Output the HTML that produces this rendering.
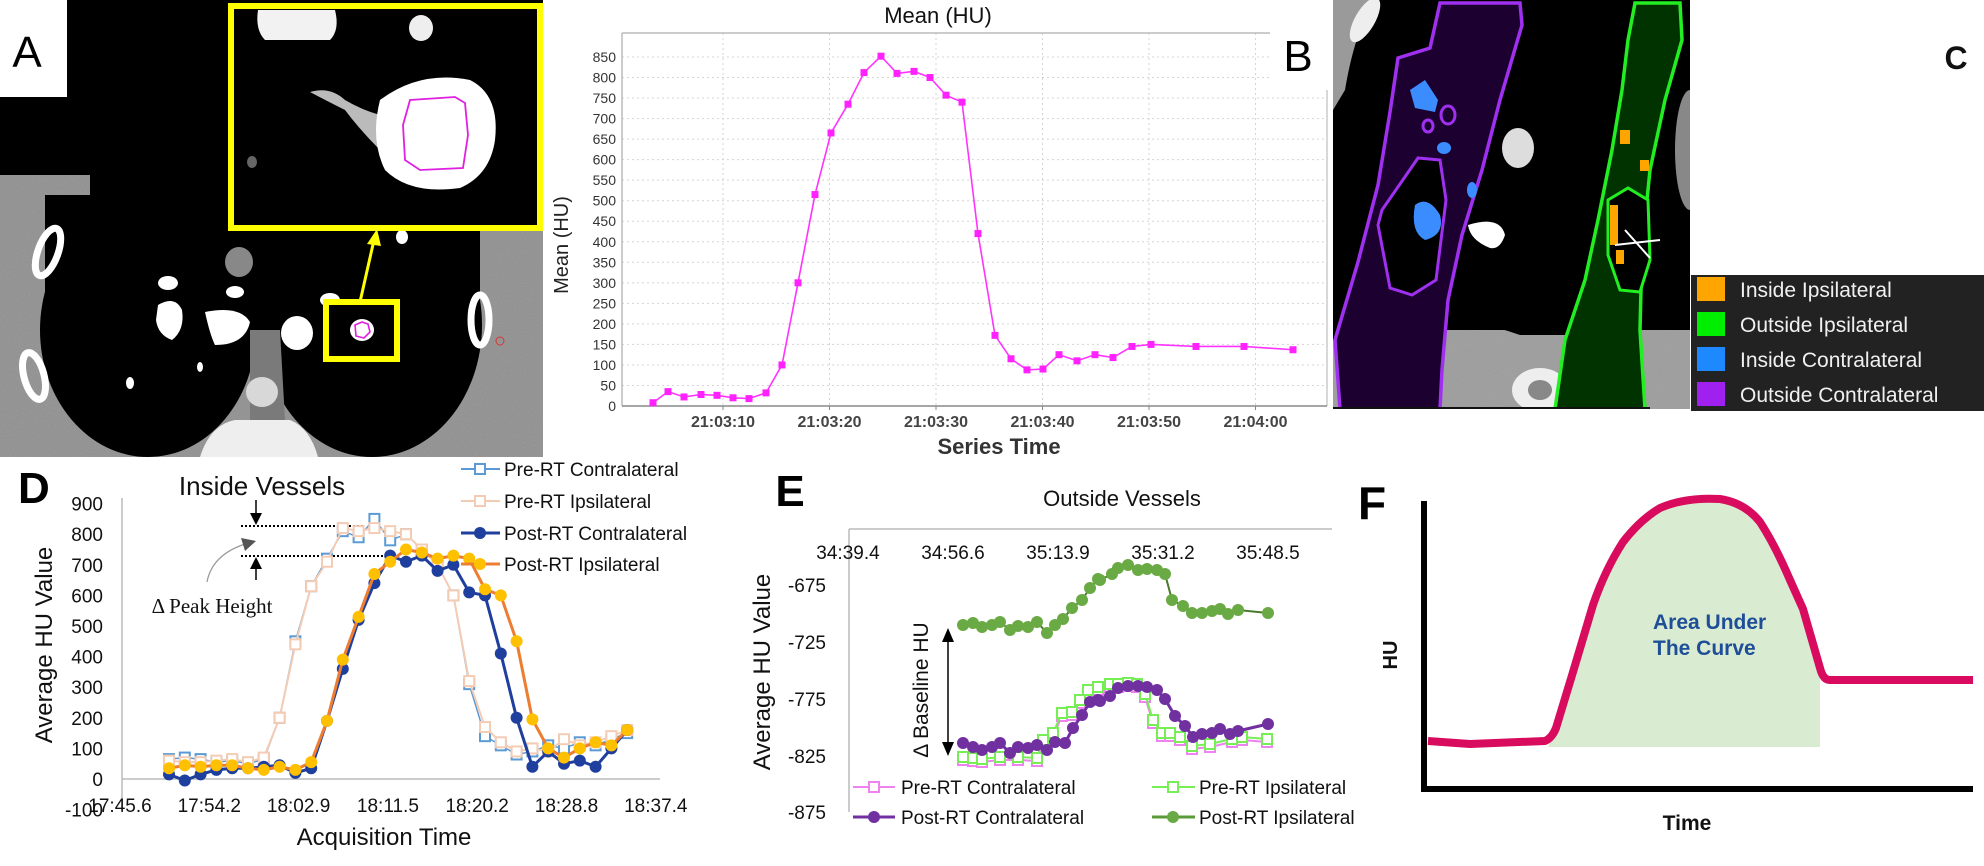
<!DOCTYPE html>
<html><head><meta charset="utf-8">
<style>
html,body{margin:0;padding:0;background:#fff;}
svg{display:block;font-family:"Liberation Sans",Arial,sans-serif;}
</style></head>
<body>
<svg id="s" width="1984" height="866" viewBox="0 0 1984 866" xmlns="http://www.w3.org/2000/svg">
<defs>
<filter id="noise" x="0" y="0" width="100%" height="100%">
<feTurbulence type="fractalNoise" baseFrequency="0.9" numOctaves="2" seed="3"/>
<feColorMatrix type="matrix" values="0 0 0 0 0.5  0 0 0 0 0.5  0 0 0 0 0.5  0 0 0 0.35 0"/>
<feComposite in2="SourceGraphic" operator="in"/>
</filter>
<clipPath id="cpA"><rect x="0" y="0" width="543" height="457"/></clipPath>
<clipPath id="cpB"><rect x="1333" y="0" width="357" height="409"/></clipPath>
</defs>

<!-- ============ PANEL A ============ -->
<g clip-path="url(#cpA)">
<rect x="0" y="0" width="543" height="457" fill="#000"/>
<rect x="0" y="175" width="543" height="282" fill="#8c8c8c"/>
<rect x="0" y="175" width="543" height="282" fill="#8c8c8c" filter="url(#noise)"/>
<rect x="90" y="0" width="390" height="330" fill="#000"/>
<rect x="45" y="195" width="60" height="120" fill="#000"/>
<ellipse cx="148" cy="330" rx="108" ry="127" fill="#000"/>
<ellipse cx="372" cy="325" rx="110" ry="132" fill="#000"/>
<path d="M250 330 L280 330 L285 420 L250 420 Z" fill="#7a7a7a"/>
<ellipse cx="262" cy="392" rx="16" ry="15" fill="#d8d8d8"/>
<path d="M200 457 Q210 425 235 420 L290 420 Q310 428 318 457 Z" fill="#eee"/>
<ellipse cx="48" cy="252" rx="10" ry="25" fill="none" stroke="#fff" stroke-width="7" transform="rotate(20 48 252)"/>
<ellipse cx="34" cy="376" rx="10" ry="24" fill="none" stroke="#fff" stroke-width="7" transform="rotate(-15 34 376)"/>
<ellipse cx="480" cy="320" rx="9" ry="25" fill="none" stroke="#fff" stroke-width="7"/>
<ellipse cx="239" cy="262" rx="14" ry="15" fill="#888"/>
<ellipse cx="168" cy="283" rx="10" ry="7" fill="#fff"/>
<ellipse cx="235" cy="292" rx="9" ry="6" fill="#fff"/>
<path d="M158 305 Q175 295 182 310 Q185 330 172 340 Q158 335 156 320Z" fill="#fff"/>
<path d="M205 312 Q240 305 250 322 Q245 345 215 345 Q210 335 205 312Z" fill="#fff"/>
<ellipse cx="297" cy="333" rx="16" ry="17" fill="#fff"/>
<ellipse cx="330" cy="300" rx="10" ry="7" fill="#fff"/>
<ellipse cx="402" cy="237" rx="6" ry="7" fill="#fff"/>
<ellipse cx="130" cy="383" rx="4" ry="6" fill="#fff"/>
<ellipse cx="200" cy="367" rx="3" ry="5" fill="#fff"/>
<ellipse cx="500" cy="341" rx="4" ry="4" fill="none" stroke="#d33" stroke-width="1"/>
<!-- small yellow box -->
<rect x="326" y="302" width="71" height="57" fill="#000" stroke="#ff0" stroke-width="6"/>
<ellipse cx="362" cy="330" rx="12" ry="11" fill="#fff"/>
<path d="M355 325 L362 322 L368 324 L370 332 L364 338 L356 336 Z" fill="none" stroke="#e020e0" stroke-width="1.6"/>
<line x1="360" y1="302" x2="374" y2="240" stroke="#ff0" stroke-width="3"/>
<path d="M367 244 L377 229 L381 246 Z" fill="#ff0"/>
<!-- inset -->
<rect x="231" y="6" width="309" height="222" fill="#000" stroke="#ff0" stroke-width="6"/>
<path d="M258 10 L335 10 Q340 30 330 40 L265 40 Q255 30 258 10Z" fill="#f2f2f2"/>
<ellipse cx="421" cy="28" rx="12" ry="13" fill="#eee"/>
<path d="M310 92 Q330 86 345 100 Q362 110 380 115 L380 150 Q360 130 345 110 Q325 100 310 92Z" fill="#bbb"/>
<path d="M380 100 Q420 70 470 80 Q500 95 495 140 Q490 175 460 188 Q410 195 385 170 Q370 140 380 100Z" fill="#fff"/>
<path d="M403 125 L410 100 L455 97 L465 103 L468 135 L463 168 L420 170 L405 160 Z" fill="none" stroke="#e020e0" stroke-width="1.8"/>
<ellipse cx="252" cy="162" rx="5" ry="6" fill="#666"/>
</g>
<rect x="0" y="0" width="67" height="97" fill="#fff"/>
<text x="27" y="67" font-size="44" text-anchor="middle" fill="#000">A</text>

<!-- ============ MEAN CHART ============ -->
<text x="938" y="23" font-size="22" text-anchor="middle" fill="#111">Mean (HU)</text>
<g id="meangrid" stroke="#d4d4d4" stroke-width="1" stroke-dasharray="2,3"></g>
<line x1="622" y1="33" x2="1327" y2="33" stroke="#bbb" stroke-width="1.5"/>
<line x1="622" y1="33" x2="622" y2="406" stroke="#bbb" stroke-width="1.5"/>
<line x1="1327" y1="33" x2="1327" y2="406" stroke="#ccc" stroke-width="1.5"/>
<line x1="622" y1="406" x2="1327" y2="406" stroke="#888" stroke-width="1.5"/>
<g id="meanylab" font-size="14" fill="#333" text-anchor="end"></g>
<g id="meanxlab" font-size="16" font-weight="bold" fill="#444" text-anchor="middle"></g>
<text x="999" y="454" font-size="22" font-weight="bold" text-anchor="middle" fill="#333">Series Time</text>
<text transform="translate(568 245) rotate(-90)" font-size="20" text-anchor="middle" fill="#222">Mean (HU)</text>
<polyline id="meanline" fill="none" stroke="#ff33ff" stroke-width="1.6"/>
<g id="meanpts" fill="#ff22ff"></g>

<!-- B label -->
<rect x="1270" y="20" width="60" height="70" fill="#fff"/>
<text x="1298" y="71" font-size="44" text-anchor="middle" fill="#000">B</text>

<!-- ============ PANEL B IMAGE ============ -->
<g clip-path="url(#cpB)">
<rect x="1333" y="0" width="357" height="409" fill="#000"/>
<path d="M1333 0 L1375 0 Q1355 30 1345 90 L1333 110Z" fill="#9a9a9a"/>
<ellipse cx="1365" cy="20" rx="10" ry="25" fill="#eee" transform="rotate(30 1365 20)"/>
<path d="M1333 330 L1690 330 L1690 409 L1333 409Z" fill="#999"/>
<rect x="1333" y="330" width="357" height="79" fill="#999" filter="url(#noise)"/>
<ellipse cx="1540" cy="390" rx="28" ry="22" fill="#eee"/>
<ellipse cx="1540" cy="390" rx="12" ry="10" fill="#888"/>
<path d="M1333 340 Q1420 300 1520 335 L1600 335 Q1650 300 1690 330 L1690 260 Q1660 300 1640 330 L1460 330 Q1400 300 1333 330Z" fill="#000"/>
<path d="M1440 3 L1520 3 L1522 25 L1500 100 L1482 170 L1462 235 L1448 300 L1442 370 L1440 409 L1340 409 L1335 340 L1358 262 L1378 185 L1390 112 L1398 58 L1430 48 Z" fill="#1c0030" stroke="#a030f0" stroke-width="3.5"/>
<path d="M1382 210 L1418 158 L1440 160 L1446 200 L1436 280 L1412 295 L1390 288 L1378 225 Z" fill="#000" stroke="#a030f0" stroke-width="3"/>
<ellipse cx="1448" cy="115" rx="7" ry="9" fill="none" stroke="#a030f0" stroke-width="3"/>
<ellipse cx="1428" cy="126" rx="5" ry="6" fill="none" stroke="#a030f0" stroke-width="3"/>
<path d="M1410 90 L1425 80 L1438 100 L1435 112 L1415 108Z" fill="#3a8cff"/>
<ellipse cx="1444" cy="148" rx="7" ry="6" fill="#3a8cff"/>
<path d="M1415 205 Q1428 195 1440 215 Q1445 235 1425 240 Q1410 232 1415 205Z" fill="#3a8cff"/>
<ellipse cx="1472" cy="190" rx="5" ry="8" fill="#3a8cff"/>
<ellipse cx="1518" cy="148" rx="16" ry="20" fill="#ddd"/>
<path d="M1468 225 Q1500 215 1505 235 Q1500 250 1490 248 Q1470 240 1468 225Z" fill="#fff"/>
<path d="M1635 3 L1680 3 L1682 40 L1665 100 L1650 170 L1642 250 L1640 330 L1645 409 L1555 409 L1565 340 L1585 280 L1598 220 L1612 150 L1622 90 L1628 40 Z" fill="#003300" stroke="#22ee22" stroke-width="3.5"/>
<path d="M1608 200 L1628 188 L1648 200 L1650 260 L1640 292 L1620 290 L1608 255 Z" fill="#000" stroke="#22ee22" stroke-width="3"/>
<rect x="1620" y="130" width="10" height="14" fill="#ffa500"/>
<rect x="1640" y="160" width="9" height="11" fill="#ffa500"/>
<rect x="1610" y="205" width="8" height="40" fill="#ffa500"/>
<rect x="1616" y="250" width="8" height="14" fill="#ffa500"/>
<path d="M1615 245 L1660 240 M1625 230 L1650 258" stroke="#fff" stroke-width="2"/>
<ellipse cx="1690" cy="150" rx="15" ry="60" fill="#888"/>
</g>
<line x1="1333" y1="408" x2="1650" y2="408" stroke="#111" stroke-width="2"/>

<!-- legend box -->
<rect x="1691" y="275" width="293" height="136" fill="#222"/>
<rect x="1697" y="277" width="28" height="24" fill="#ffa500"/>
<rect x="1697" y="312" width="28" height="24" fill="#00ee00"/>
<rect x="1697" y="347" width="28" height="24" fill="#1e88ff"/>
<rect x="1697" y="382" width="28" height="24" fill="#a020f0"/>
<g font-size="21" fill="#f0f0f0">
<text x="1740" y="297">Inside Ipsilateral</text>
<text x="1740" y="332">Outside Ipsilateral</text>
<text x="1740" y="367">Inside Contralateral</text>
<text x="1740" y="402">Outside Contralateral</text>
</g>
<text x="1956" y="69" font-size="32" font-weight="bold" text-anchor="middle" fill="#111">C</text>

<!-- ============ PANEL D ============ -->
<text x="18" y="503" font-size="44" font-weight="bold" fill="#000">D</text>
<text x="262" y="495" font-size="26" text-anchor="middle" fill="#111">Inside Vessels</text>
<line x1="122" y1="498" x2="122" y2="810" stroke="#bbb" stroke-width="1.5"/>
<line x1="122" y1="779" x2="660" y2="779" stroke="#bbb" stroke-width="1.5"/>
<g id="dylab" font-size="19" fill="#111" text-anchor="end"></g>
<g id="dxlab" font-size="19" fill="#111" text-anchor="middle"></g>
<text x="384" y="845" font-size="24" text-anchor="middle" fill="#111">Acquisition Time</text>
<text transform="translate(52 645) rotate(-90)" font-size="24" text-anchor="middle" fill="#111">Average HU  Value</text>
<line x1="241" y1="526" x2="364" y2="526" stroke="#000" stroke-width="2" stroke-dasharray="2,2"/>
<line x1="241" y1="556" x2="390" y2="556" stroke="#000" stroke-width="2" stroke-dasharray="2,2"/>
<line x1="256" y1="500" x2="256" y2="515" stroke="#000" stroke-width="1.5"/>
<path d="M250 513 L262 513 L256 525Z" fill="#000"/>
<line x1="256" y1="568" x2="256" y2="580" stroke="#000" stroke-width="1.5"/>
<path d="M250 569 L262 569 L256 557Z" fill="#000"/>
<path d="M207 582 Q212 555 245 544" fill="none" stroke="#999" stroke-width="1.2"/>
<path d="M241 538 L256 541 L245 551Z" fill="#555"/>
<text x="212" y="613" font-size="21" text-anchor="middle" fill="#111" font-family="Liberation Serif, serif">Δ Peak Height</text>
<g id="dseries"></g>
<!-- D legend -->
<g font-size="19" fill="#111">
<line x1="461" y1="469" x2="500" y2="469" stroke="#5b9bd5" stroke-width="2"/><rect x="475" y="464" width="10" height="10" fill="#fff" stroke="#5b9bd5" stroke-width="2"/>
<text x="504" y="476">Pre-RT Contralateral</text>
<line x1="461" y1="501" x2="500" y2="501" stroke="#f4ccb4" stroke-width="2"/><rect x="475" y="496" width="10" height="10" fill="#fff" stroke="#f4ccb4" stroke-width="2"/>
<text x="504" y="508">Pre-RT Ipsilateral</text>
<line x1="461" y1="533" x2="500" y2="533" stroke="#1f3f9f" stroke-width="3"/><circle cx="480" cy="533" r="6" fill="#1f3f9f"/>
<text x="504" y="540">Post-RT Contralateral</text>
<line x1="461" y1="564" x2="500" y2="564" stroke="#ed7d31" stroke-width="3"/><circle cx="480" cy="564" r="6" fill="#ffc000"/>
<text x="504" y="571">Post-RT Ipsilateral</text>
</g>

<!-- ============ PANEL E ============ -->
<text x="790" y="506" font-size="44" font-weight="bold" text-anchor="middle" fill="#000">E</text>
<text x="1122" y="506" font-size="22" text-anchor="middle" fill="#111">Outside Vessels</text>
<line x1="849" y1="529" x2="1332" y2="529" stroke="#bbb" stroke-width="1.5"/>
<line x1="849" y1="529" x2="849" y2="812" stroke="#bbb" stroke-width="1.5"/>
<g font-size="19" fill="#111" text-anchor="middle">
<text x="848" y="559">34:39.4</text><text x="953" y="559">34:56.6</text><text x="1058" y="559">35:13.9</text><text x="1163" y="559">35:31.2</text><text x="1268" y="559">35:48.5</text>
</g>
<g font-size="19" fill="#111" text-anchor="end">
<text x="826" y="592">-675</text><text x="826" y="649">-725</text><text x="826" y="706">-775</text><text x="826" y="763">-825</text><text x="826" y="819">-875</text>
</g>
<text transform="translate(770 672) rotate(-90)" font-size="24" text-anchor="middle" fill="#111">Average HU Value</text>
<line x1="948" y1="640" x2="948" y2="745" stroke="#000" stroke-width="1.5"/>
<path d="M942 642 L954 642 L948 628Z" fill="#000"/>
<path d="M942 742 L954 742 L948 756Z" fill="#000"/>
<text transform="translate(928 690) rotate(-90)" font-size="21" text-anchor="middle" fill="#111">Δ Baseline HU</text>
<g id="eseries"></g>
<g font-size="19" fill="#111">
<line x1="853" y1="787" x2="895" y2="787" stroke="#ee82ee" stroke-width="2"/><rect x="869" y="782" width="10" height="10" fill="#fff" stroke="#ee82ee" stroke-width="2"/>
<text x="901" y="794">Pre-RT Contralateral</text>
<line x1="853" y1="817" x2="895" y2="817" stroke="#7030a0" stroke-width="3"/><circle cx="874" cy="817" r="6" fill="#7030a0"/>
<text x="901" y="824">Post-RT Contralateral</text>
<line x1="1152" y1="787" x2="1195" y2="787" stroke="#77ee55" stroke-width="2"/><rect x="1168" y="782" width="10" height="10" fill="#fff" stroke="#77ee55" stroke-width="2"/>
<text x="1199" y="794">Pre-RT Ipsilateral</text>
<line x1="1152" y1="817" x2="1195" y2="817" stroke="#5a9a3a" stroke-width="3"/><circle cx="1173" cy="817" r="6" fill="#6aaa44"/>
<text x="1199" y="824">Post-RT Ipsilateral</text>
</g>

<!-- ============ PANEL F ============ -->
<text x="1372" y="519" font-size="46" font-weight="bold" text-anchor="middle" fill="#000">F</text>
<path d="M1548 747 L1553 732 L1573 672 L1593 605 L1623 542 L1650 515 L1683 500 L1720 500 L1753 515 L1780 553 L1803 609 L1820 672 L1820 747 Z" fill="#d9ecd2"/>
<line x1="1424" y1="501" x2="1424" y2="792" stroke="#000" stroke-width="6"/>
<line x1="1421" y1="789" x2="1973" y2="789" stroke="#000" stroke-width="6"/>
<path d="M1428 741 L1470 744 L1545 741 Q1552 738 1556 728 L1573 672 L1593 605 Q1605 570 1623 542 Q1640 520 1660 508 Q1685 497 1720 499 Q1745 503 1760 522 Q1775 545 1790 580 L1803 609 L1820 668 Q1823 680 1830 680 L1973 680" fill="none" stroke="#d80b5e" stroke-width="8" stroke-linejoin="round"/>
<text x="1653" y="629" font-size="21" font-weight="bold" fill="#1f4e99">Area Under</text>
<text x="1653" y="655" font-size="21" font-weight="bold" fill="#1f4e99">The Curve</text>
<text transform="translate(1397 655) rotate(-90)" font-size="20" font-weight="bold" text-anchor="middle" fill="#111">HU</text>
<text x="1687" y="830" font-size="21" font-weight="bold" text-anchor="middle" fill="#111">Time</text>
</svg>
<script>
(function(){
var NS="http://www.w3.org/2000/svg";
function el(t,a,p){var e=document.createElementNS(NS,t);for(var k in a)e.setAttribute(k,a[k]);p.appendChild(e);return e;}
function txt(p,x,y,s){var t=el('text',{x:x,y:y},p);t.textContent=s;}
// Mean chart
var g=document.getElementById('meangrid');
function my(v){return 406-v*0.4106;}
for(var v=50;v<=850;v+=50){el('line',{x1:622,y1:my(v),x2:1327,y2:my(v)},g);}
var xt=[723,829.5,936,1042.5,1149,1255.5],xl=['21:03:10','21:03:20','21:03:30','21:03:40','21:03:50','21:04:00'];
for(var i=0;i<xt.length;i++){el('line',{x1:xt[i],y1:33,x2:xt[i],y2:406},g);}
var yl=document.getElementById('meanylab');
for(v=0;v<=850;v+=50){txt(yl,616,my(v)+5,String(v));}
var xlg=document.getElementById('meanxlab');
for(i=0;i<xt.length;i++){txt(xlg,xt[i],427,xl[i]);el('line',{x1:xt[i],y1:406,x2:xt[i],y2:410,stroke:'#888'},xlg);}
var mp=[[653,8],[668,35],[684,22],[701,28],[717,26],[733,20],[749,18],[766,32],[782,100],[798,300],[815,515],[831,665],[848,735],[864,812],[881,852],[897,810],[914,815],[930,800],[946,757],[962,740],[978,420],[995,172],[1011,115],[1027,88],[1043,90],[1059,125],[1077,110],[1095,125],[1113,118],[1132,145],[1151,150],[1196,145],[1244,145],[1293,137]];
var pts=[],mg=document.getElementById('meanpts');
mp.forEach(function(p){var y=my(p[1]);pts.push(p[0]+','+y);el('rect',{x:p[0]-3.5,y:y-3.5,width:7,height:7},mg);});
document.getElementById('meanline').setAttribute('points',pts.join(' '));
// D
var dy=document.getElementById('dylab');
function dyv(v){return 779-v*0.306;}
for(v=900;v>=-100;v-=100){txt(dy,103,dyv(v)+7,String(v));}
var dx=document.getElementById('dxlab'),dl=['17:45.6','17:54.2','18:02.9','18:11.5','18:20.2','18:28.8','18:37.4'];
for(i=0;i<7;i++){txt(dx,120+i*89.3,812,dl[i]);}
var S=[
 {d:[65,70,65,55,60,50,65,200,450,630,720,810,790,850,780,800,750,700,600,310,140,110,80,90,110,100,120,110,130,150],c:'#5b9bd5',sq:1,w:1.5},
 {d:[60,55,55,60,65,55,70,200,440,630,710,820,810,820,810,800,750,700,600,320,170,120,90,100,90,130,110,120,140,160],c:'#f4ccb4',sq:1,w:2},
 {d:[15,-5,15,30,35,35,40,45,20,35,190,360,520,640,730,710,730,680,700,610,600,410,200,40,90,50,60,40,100,160],c:'#1f3f9f',mc:'#1f3f9f',w:3},
 {d:[35,45,40,45,45,35,30,40,30,55,190,390,530,670,710,750,740,720,730,720,620,600,450,195,100,70,100,120,110,160],c:'#ed7d31',mc:'#ffc000',w:3}];
var ds=document.getElementById('dseries');
S.forEach(function(s){var p=[];s.d.forEach(function(v,i){p.push((169+i*15.8)+','+dyv(v));});
 el('polyline',{points:p.join(' '),fill:'none',stroke:s.c,'stroke-width':s.w},ds);
 s.d.forEach(function(v,i){var x=169+i*15.8,y=dyv(v);
  if(s.sq)el('rect',{x:x-5,y:y-5,width:10,height:10,fill:'#fff',stroke:s.c,'stroke-width':2},ds);
  else el('circle',{cx:x,cy:y,r:6,fill:s.mc},ds);});});
// E
var es=document.getElementById('eseries');
function line(pts,col,w,mk,mc,off){var p=pts.map(function(q){return q[0]+','+(q[1]+(off||0));});
 el('polyline',{points:p.join(' '),fill:'none',stroke:col,'stroke-width':w},es);
 pts.forEach(function(q){var y=q[1]+(off||0);
  if(mk=='sq')el('rect',{x:q[0]-5,y:y-5,width:10,height:10,fill:'#fff',stroke:col,'stroke-width':2},es);
  else el('circle',{cx:q[0],cy:y,r:6,fill:mc},es);});}
var gx=[963,973,982,992,1000,1010,1018,1028,1037,1047,1055,1063,1072,1082,1090,1098,1100,1112,1118,1128,1138,1147,1157,1165,1172,1183,1192,1202,1212,1220,1228,1238,1268];
var gy=[625,623,627,625,622,630,626,627,622,633,625,619,608,600,588,579,580,574,568,565,570,569,570,574,600,606,613,613,611,609,614,610,613];
var pre=[[963,757],[973,758],[982,759],[1000,757],[1018,757],[1037,758],[1043,740],[1053,733],[1062,713],[1072,712],[1080,700],[1088,690],[1098,687],[1110,684],[1118,684],[1128,683],[1137,684],[1145,694],[1153,720],[1162,733],[1170,733],[1180,737],[1192,746],[1210,744],[1232,739],[1242,737],[1267,739]];
var pc=[[963,743],[973,747],[982,750],[992,747],[1000,743],[1010,753],[1018,747],[1028,748],[1037,745],[1047,750],[1055,742],[1065,743],[1073,728],[1082,715],[1090,702],[1098,700],[1100,701],[1110,696],[1118,688],[1128,686],[1138,686],[1147,687],[1157,690],[1165,699],[1175,716],[1185,726],[1193,737],[1202,734],[1212,733],[1220,729],[1230,734],[1238,731],[1268,724]];
line(pre,'#ee82ee',2,'sq',null,3);
line(pre,'#77ee55',2,'sq',null,0);
line(pc,'#7030a0',3,'c','#7030a0');
var gp=gx.map(function(x,i){return [x,gy[i]];});
line(gp,'#4a7a2a',2,'c','#6aaa44');
})();
</script>
</body></html>
